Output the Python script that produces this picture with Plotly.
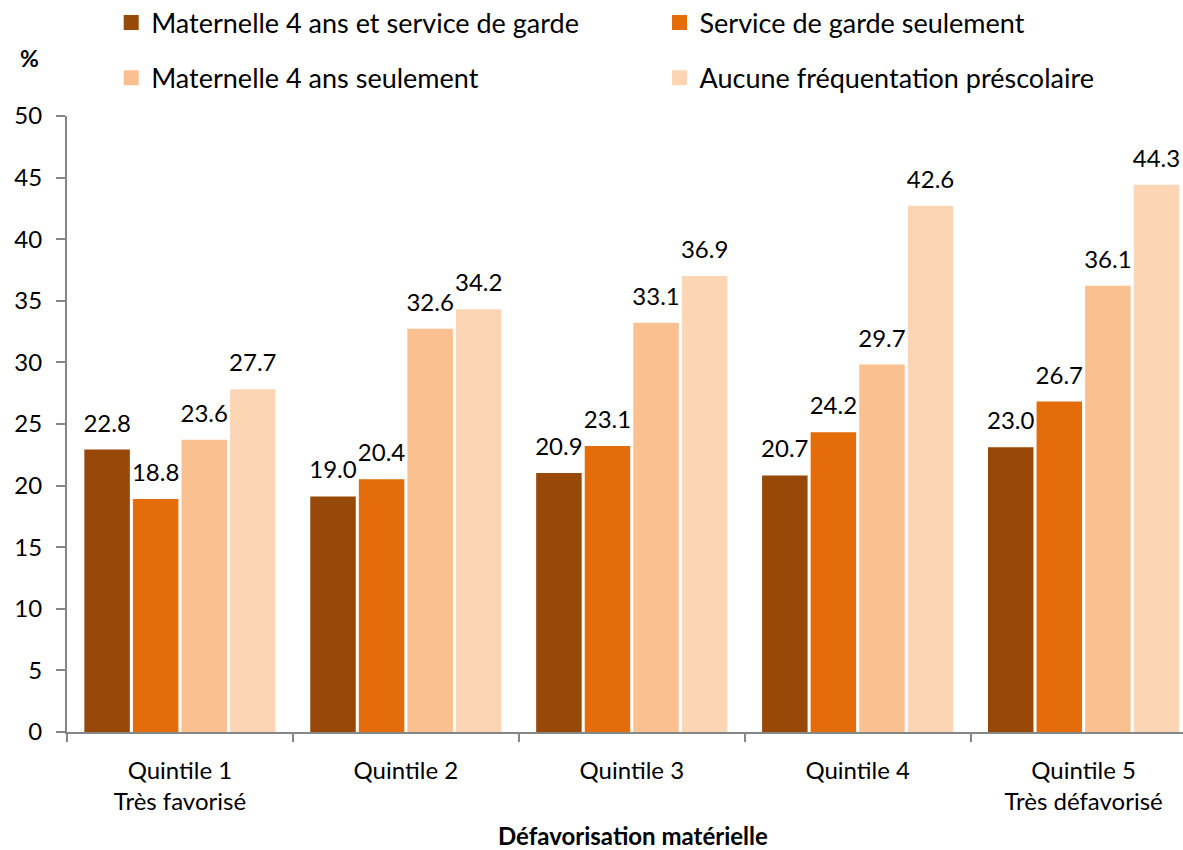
import plotly.graph_objects as go

categories = ["Quintile 1<br>Très favorisé", "Quintile 2", "Quintile 3",
              "Quintile 4", "Quintile 5<br>Très défavorisé"]
series_names = [
    "Maternelle 4 ans et service de garde",
    "Service de garde seulement",
    "Maternelle 4 ans seulement",
    "Aucune fréquentation préscolaire",
]
mat_et_garde = [22.8, 19.0, 20.9, 20.7, 23.0]
garde_seul = [18.8, 20.4, 23.1, 24.2, 26.7]
mat_seul = [23.6, 32.6, 33.1, 29.7, 36.1]
aucune = [27.7, 34.2, 36.9, 42.6, 44.3]

colors = ["#984807", "#E46C0A", "#FAC090", "#FCD5B5"]
FONT = "Lato"

# legend spots (container coords): (x, y) per series
legend_pos = [(0.094, 0.973), (0.5575, 0.973), (0.094, 0.908), (0.5575, 0.908)]

fig = go.Figure()
all_vals = [mat_et_garde, garde_seul, mat_seul, aucune]
for i, (name, vals) in enumerate(zip(series_names, all_vals)):
    lg = "legend" if i == 0 else f"legend{i + 1}"
    fig.add_trace(go.Bar(
        x=categories, y=vals, name=name,
        marker=dict(color=colors[i], line=dict(width=3, color=colors[i])),
        legend=lg, hoverinfo="y",
    ))

# value labels, grouped like the bars
for i, vals in enumerate(all_vals):
    fig.add_trace(go.Scatter(
        x=categories, y=vals, mode="markers+text",
        text=[f"{v:.1f}" for v in vals], textposition="top center",
        textfont=dict(size=24, color="black", family=FONT),
        marker=dict(size=20, opacity=0),
        cliponaxis=False, showlegend=False, hoverinfo="skip",
    ))

fig.update_layout(
    width=1183, height=850,
    margin=dict(l=67, r=0, t=116, b=118, autoexpand=False),
    plot_bgcolor="white", paper_bgcolor="white",
    font=dict(family=FONT, color="black"),
    barmode="group", bargap=0.14, bargroupgap=0.125,
    scattermode="group", scattergap=0.14,
    showlegend=True,
)

for i, (lx, ly) in enumerate(legend_pos):
    key = "legend" if i == 0 else f"legend{i + 1}"
    fig.update_layout({key: dict(
        x=lx, y=ly, xref="container", yref="container",
        xanchor="left", yanchor="middle", orientation="h",
        font=dict(size=27, color="black", family=FONT),
        bgcolor="rgba(0,0,0,0)",
    )})

fig.update_layout(
    xaxis=dict(
        range=[-0.5, 4.44],
        showline=True, linecolor="#868686", linewidth=2,
        ticks="outside", tickson="boundaries", ticklen=8,
        tickcolor="#868686", tickwidth=2,
        tickfont=dict(size=24, family=FONT),
        ticklabelstandoff=16,
        showgrid=False,
    ),
    yaxis=dict(
        range=[0, 50], dtick=5,
        showline=True, linecolor="#868686", linewidth=2,
        ticks="outside", ticklen=9, tickcolor="#868686", tickwidth=2,
        tickfont=dict(size=24, family=FONT),
        ticklabelstandoff=9,
        showgrid=False, zeroline=False,
    ),
    annotations=[
        dict(text="<b>%</b>", xref="paper", yref="paper",
             x=-0.034, y=1.094, xanchor="center", yanchor="middle",
             showarrow=False, font=dict(size=23, family=FONT)),
        dict(text="<b>Défavorisation matérielle</b>", xref="paper", yref="paper",
             x=0.507, y=-0.168, xanchor="center", yanchor="middle",
             showarrow=False, font=dict(size=24, family=FONT)),
    ],
)

# page body has a default 8px margin; drop it so the figure fills the window
fig.write_html("out.html", config={"displayModeBar": False},
               post_script="document.body.style.margin='0px';")
